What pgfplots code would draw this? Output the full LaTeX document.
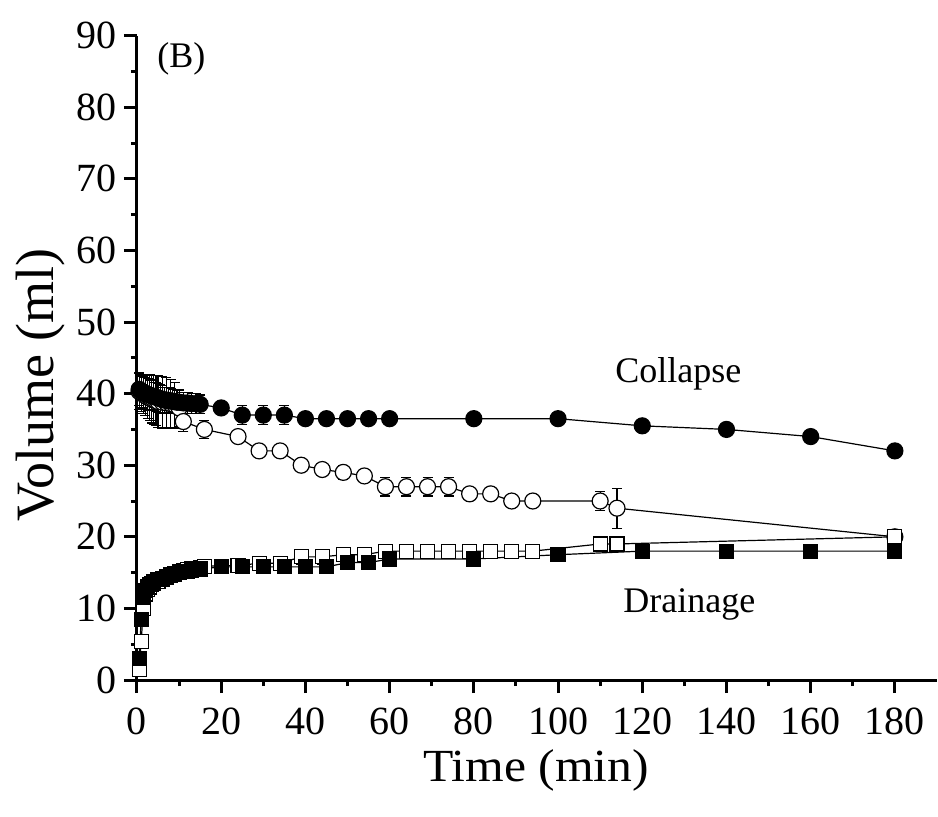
\documentclass[border=0pt]{standalone}
\usepackage{fontspec}
\setmainfont{Liberation Serif}
\usepackage{pgfplots}
\usepackage{pgfplotstable}
\pgfplotsset{compat=1.18}

% Collapse, filled circles
\pgfplotstableread{
x y e
0.5 40.6 2.3
1 40.4 2.3
1.5 40.2 2.2
2 40.0 2.2
2.5 39.9 2.2
3 39.8 2.1
3.5 39.7 2.1
4 39.6 2.0
4.5 39.5 2.0
5 39.4 2.0
5.5 39.3 1.9
6 39.2 1.9
6.5 39.1 1.8
7 39.1 1.8
7.5 39.0 1.8
8 39.0 1.7
8.5 38.9 1.7
9 38.9 1.7
9.5 38.8 1.6
10 38.8 1.6
11 38.7 1.5
12 38.7 1.5
13 38.6 1.4
14 38.6 1.4
15 38.5 1.3
20 38.0 0
25 37.0 1.3
30 37.0 1.3
35 37.0 1.3
40 36.5 0
45 36.5 0
50 36.5 0
55 36.5 0
60 36.5 0
80 36.5 0
100 36.5 0
120 35.5 0
140 35.0 0
160 34.0 0
180 32.0 0
}\collfilled

% Collapse, open circles
\pgfplotstableread{
x y e
0.5 40.3 2.5
1 40.1 2.6
1.5 39.9 2.7
2 39.7 2.8
2.5 39.5 3.0
3 39.4 3.2
3.5 39.2 3.3
4 39.1 3.4
4.5 39.0 3.5
5 38.9 3.6
6 38.8 3.6
7 38.7 3.5
8 38.6 3.4
9 38.4 3.2
10 38.0 2.6
11 36.1 1.4
16 35.0 1.3
24 34.0 0
29 32.0 0
34 32.0 0
39 30.0 0
44 29.4 0.5
49 29.0 1.0
54 28.5 0.4
59 27.0 1.3
64 27.0 1.3
69 27.0 1.3
74 27.0 1.3
79 26.0 0
84 26.0 0
89 25.0 0
94 25.0 0
110 25.0 1.3
114 24.0 2.8
180 20.0 0.5
}\collopen

% Drainage, open squares
\pgfplotstableread{
x y e
0.5 1.5 0
1 5.4 0
1.5 10.0 0
2 12.0 0.5
2.5 12.6 0.5
3 13.0 0.5
3.5 13.3 0.5
4 13.5 0.5
5 13.8 0.6
6 14.1 0.6
7 14.4 0.6
8 14.7 0.6
9 14.9 0.6
10 15.1 0.6
11 15.3 0.6
12 15.4 0.6
13 15.5 0.6
14 15.6 0.6
15 15.7 0.5
16 15.9 0
24 16.0 0
29 16.3 0.3
34 16.3 0.3
39 17.2 1.0
44 17.2 1.0
49 17.5 0.3
54 17.5 0.3
59 18.0 0
64 18.0 0
69 18.0 0
74 18.0 0
79 18.0 0
84 18.0 0
89 18.0 0
94 18.0 0
110 19.0 1.0
114 19.0 1.0
180 20.0 0
}\drainopen

% Drainage, filled squares
\pgfplotstableread{
x y e
0.5 3.0 0
1 8.5 0
1.5 11.5 0
2 12.5 0.8
2.5 13.0 0.8
3 13.3 0.8
3.5 13.5 0.8
4 13.7 0.8
5 14.0 0.8
6 14.2 0.8
7 14.4 0.8
8 14.6 0.8
9 14.8 0.7
10 15.0 0.7
11 15.1 0.7
12 15.2 0.7
13 15.3 0.6
14 15.4 0.6
15 15.5 0.6
20 15.8 0
25 15.8 0
30 15.8 0
35 15.8 0
40 15.8 0
45 15.8 0
50 16.4 0
55 16.4 0
60 16.9 0
80 16.9 0
100 17.5 0
120 18.0 0
140 18.0 0
160 18.0 0
180 18.0 0
}\drainfilled

\begin{document}
\begin{tikzpicture}
\useasboundingbox (-68.5pt,-68pt) rectangle (400.5pt,340pt);
\begin{axis}[
  at={(0pt,0pt)}, anchor=south west,
  scale only axis, width=400pt, height=322.2pt,
  xmin=0, xmax=190, ymin=0, ymax=90,
  axis x line=bottom, axis y line=left,
  axis line style={-, line width=1.5pt},
  tick align=outside,
  major tick length=6.5pt, minor tick length=3pt,
  every tick/.style={black, line width=1.5pt},
  xtick={0,20,...,180}, ytick={0,10,...,90},
  minor x tick num=1, minor y tick num=1,
  /pgf/number format/assume math mode=true,
  tick label style={font=\fontsize{20}{20}\selectfont},
  xticklabel style={inner ysep=1pt, yshift=-6pt},
  xlabel={\scalebox{1.08}[1]{Time (min)}}, ylabel={Volume (ml)},
  xlabel style={font=\fontsize{23}{23}\selectfont, inner sep=0pt, at={(axis description cs:0.499,-0.1397)}, anchor=center},
  ylabel style={font=\fontsize{27}{27}\selectfont, at={(axis description cs:-0.121,0.458)}, anchor=center},
  clip=false,
  error bars/error bar style={line width=0.6pt, black},
  error bars/error mark options={rotate=90, mark size=2.5pt, line width=0.6pt, black},
]
% open circles
\addplot[black, line width=0.6pt, mark=*, mark size=4pt, mark options={fill=white, line width=0.6pt}] table[x=x,y=y] {\collopen};
\addplot[draw=none, mark=none, error bars/.cd, y dir=both, y explicit]
  table[x=x, y=y, y error=e, restrict expr to domain={\thisrow{e}}{0.01:100}] {\collopen};
% open squares
\addplot[black, line width=0.6pt, mark=square*, mark size=3.5pt, mark options={fill=white, line width=0.6pt}] table[x=x,y=y] {\drainopen};
\addplot[draw=none, mark=none, error bars/.cd, y dir=both, y explicit]
  table[x=x, y=y, y error=e, restrict expr to domain={\thisrow{e}}{0.01:100}] {\drainopen};
% filled circles
\addplot[black, line width=0.6pt, mark=*, mark size=4pt, mark options={fill=black}] table[x=x,y=y] {\collfilled};
\addplot[draw=none, mark=none, error bars/.cd, y dir=both, y explicit]
  table[x=x, y=y, y error=e, restrict expr to domain={\thisrow{e}}{0.01:100}] {\collfilled};
% filled squares
\addplot[black, line width=0.6pt, mark=square*, mark size=3.5pt, mark options={fill=black}] table[x=x,y=y] {\drainfilled};
\addplot[draw=none, mark=none, error bars/.cd, y dir=both, y explicit]
  table[x=x, y=y, y error=e, restrict expr to domain={\thisrow{e}}{0.01:100}] {\drainfilled};

\node[anchor=base west, font=\fontsize{18}{18}\selectfont, inner sep=0pt] at (axis cs:4.75,85.5) {(B)};
\node[anchor=base west, font=\fontsize{18}{18}\selectfont, inner sep=0pt] at (axis cs:113.5,41.6) {Collapse};
\node[anchor=base west, font=\fontsize{18}{18}\selectfont, inner sep=0pt] at (axis cs:115.4,9.4) {Drainage};
\end{axis}
\end{tikzpicture}
\end{document}
